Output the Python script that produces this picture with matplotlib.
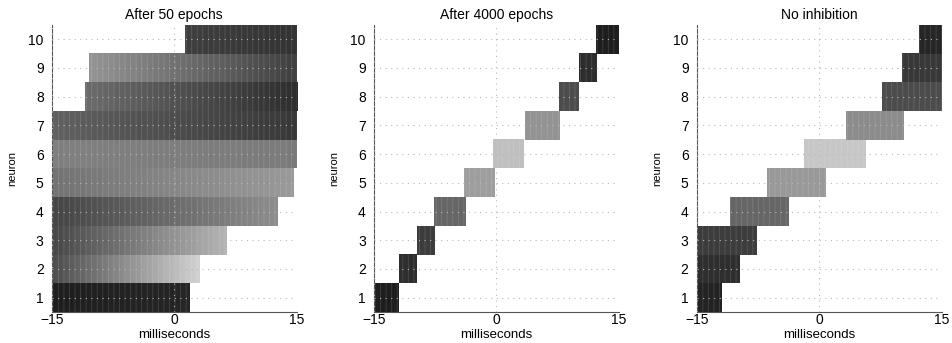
import numpy as np
import matplotlib
matplotlib.use("Agg")
import matplotlib.pyplot as plt

plt.rcParams['font.family'] = ['Liberation Sans', 'DejaVu Sans']
plt.rcParams['hatch.linewidth'] = 0.6

neurons = list(range(1, 11))
titles = ["After 50 epochs", "After 4000 epochs", "No inhibition"]

# panel 1: start, end, grey at left edge, grey at right edge
p1_start = [-15, -15, -15, -15, -15, -15, -15, -11.0, -10.4, 1.3]
p1_end = [1.9, 3.1, 6.4, 12.7, 14.6, 15, 15, 15, 15, 15]
p1_left = [0.12, 0.30, 0.28, 0.27, 0.45, 0.50, 0.38, 0.42, 0.58, 0.25]
p1_right = [0.15, 0.82, 0.70, 0.55, 0.60, 0.48, 0.22, 0.18, 0.25, 0.20]

# panel 2
p2_start = [-15, -11.9, -9.8, -7.7, -4.0, -0.4, 3.45, 7.7, 10.1, 12.2]
p2_end = [-12.0, -9.8, -7.7, -3.8, -0.2, 3.4, 7.65, 10.1, 12.2, 15]
p2_grey = [0.12, 0.18, 0.24, 0.40, 0.62, 0.75, 0.58, 0.30, 0.18, 0.12]

# panel 3
p3_start = [-15, -15, -15, -10.9, -6.4, -1.9, 3.3, 7.75, 10.2, 12.2]
p3_end = [-11.95, -9.8, -7.75, -3.75, 0.8, 5.6, 10.4, 15, 15, 15]
p3_grey = [0.14, 0.18, 0.24, 0.40, 0.60, 0.78, 0.55, 0.30, 0.22, 0.15]

panels = [
    (p1_start, p1_end, p1_left, p1_right),
    (p2_start, p2_end, p2_grey, p2_grey),
    (p3_start, p3_end, p3_grey, p3_grey),
]

fig = plt.figure(figsize=(9.52, 3.43), dpi=100)
lefts = [0.0546, 0.393, 0.732]

for k, (start, end, gl, gr) in enumerate(panels):
    ax = fig.add_axes([lefts[k], 0.0904, 0.257, 0.837])
    for i, n in enumerate(neurons):
        grad = np.linspace(gl[i], gr[i], 50).reshape(1, -1)
        ax.imshow(grad, cmap='gray', vmin=0, vmax=1, aspect='auto',
                  extent=(start[i], end[i], n - 0.5, n + 0.5),
                  interpolation='bilinear', zorder=1)
    ax.barh(neurons, np.array(end) - np.array(start), left=start, height=1,
            facecolor='none', edgecolor=(1, 1, 1, 0.14), linewidth=0,
            hatch='|||', zorder=2)
    ax.set_xlim(-15, 15)
    ax.set_ylim(0.5, 10.5)
    ax.set_xticks([-15, 0, 15])
    ax.set_xticklabels(["\u221215", "0", "15"])
    ax.set_yticks(neurons)
    ax.grid(True, color='#b8b8b8', linestyle=(0, (1, 4)), linewidth=0.8, zorder=3)
    ax.set_axisbelow(False)
    ax.tick_params(axis='x', length=0, labelsize=10, pad=1)
    ax.tick_params(axis='y', length=0, labelsize=10, pad=6)
    for s in ['top', 'right']:
        ax.spines[s].set_visible(False)
    for s in ['left', 'bottom']:
        ax.spines[s].set_color('#555555')
        ax.spines[s].set_linewidth(0.8)
    ax.set_title(titles[k], fontsize=10, pad=4)
    ax.set_xlabel("milliseconds", fontsize=9.5)
    ax.xaxis.set_label_coords(0.5, -0.06)
    ax.set_ylabel("neuron", fontsize=8, labelpad=8, fontstretch='condensed')

fig.savefig("out.png", dpi=100)
